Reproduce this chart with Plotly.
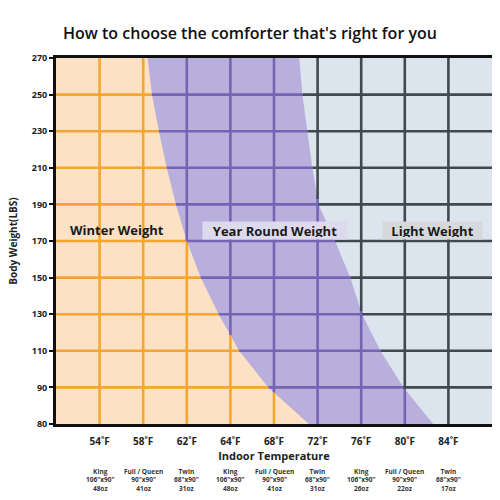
import numpy as np
import plotly.graph_objects as go

# ---------------- data ----------------
title = "How to choose the comforter that's right for you"
weights = [80, 90, 110, 130, 150, 170, 190, 210, 230, 250, 270]          # y tick labels (bottom -> top)
temps = ["54˚F", "58˚F", "62˚F", "64˚F", "68˚F", "72˚F", "76˚F", "80˚F", "84˚F"]
sizes = ["King", "Full / Queen", "Twin", "King", "Full / Queen", "Twin", "King", "Full / Queen", "Twin"]
dims = ['106"x90"', '90"x90"', '68"x90"', '106"x90"', '90"x90"', '68"x90"', '106"x90"', '90"x90"', '68"x90"']
ounces = ["48oz", "41oz", "31oz", "48oz", "41oz", "31oz", "26oz", "22oz", "17oz"]
# zone boundaries: position on the temperature grid (0 = left edge, 10 = right edge) at each weight
winter_edge = [5.8, 4.87, 4.2, 3.73, 3.32, 3.0, 2.75, 2.54, 2.36, 2.2, 2.1]
yearround_edge = [8.65, 7.97, 7.44, 7.02, 6.75, 6.4, 6.02, 5.88, 5.77, 5.65, 5.58]
zone_labels = ["Winter Weight", "Year Round Weight", "Light Weight"]

# ---------------- styling ----------------
ORANGE_FILL = "#FDE1C4"
PURPLE_FILL = "#B9AFDD"
LIGHT_FILL = "#DCE5ED"
ORANGE_LINE = "#F5A630"
PURPLE_LINE = "#7563B5"
DARK_LINE = "#3F4950"
FONT = "Open Sans"

ny = len(weights)            # 11 grid levels -> indices 0..10
yi = np.arange(ny, dtype=float)
XMAX = len(temps) + 1        # x grid 0..10
W = np.array(winter_edge)
P = np.array(yearround_edge)

fig = go.Figure()

# purple zone (left of year-round boundary)
fig.add_trace(go.Scatter(
    x=[0] + list(P) + [0], y=[0] + list(yi) + [ny - 1],
    fill="toself", fillcolor=PURPLE_FILL, line=dict(width=0),
    mode="lines", hoverinfo="skip", showlegend=False))
# orange zone (left of winter boundary)
fig.add_trace(go.Scatter(
    x=[0] + list(W) + [0], y=[0] + list(yi) + [ny - 1],
    fill="toself", fillcolor=ORANGE_FILL, line=dict(width=0),
    mode="lines", hoverinfo="skip", showlegend=False))

# grid segments coloured by zone
seg = {ORANGE_LINE: ([], []), PURPLE_LINE: ([], []), DARK_LINE: ([], [])}

def add(color, x0, y0, x1, y1):
    if abs(x1 - x0) < 1e-9 and abs(y1 - y0) < 1e-9:
        return
    xs, ys = seg[color]
    xs += [x0, x1, None]
    ys += [y0, y1, None]

# horizontal lines
for k in range(1, ny - 1):
    w, p = W[k], P[k]
    add(ORANGE_LINE, 0, k, w, k)
    add(PURPLE_LINE, w, k, p, k)
    add(DARK_LINE, p, k, XMAX, k)
# vertical lines
for j in range(1, XMAX):
    yw = float(np.interp(j, W[::-1], yi[::-1]))
    yp = float(np.interp(j, P[::-1], yi[::-1]))
    if j < W.min():
        yw = ny - 1
    if j > W.max():
        yw = 0
    if j < P.min():
        yp = ny - 1
    if j > P.max():
        yp = 0
    yp = max(yp, yw)
    add(ORANGE_LINE, j, 0, j, yw)
    add(PURPLE_LINE, j, yw, j, yp)
    add(DARK_LINE, j, yp, j, ny - 1)

for color, (xs, ys) in seg.items():
    fig.add_trace(go.Scatter(x=xs, y=ys, mode="lines",
                             line=dict(color=color, width=2.6),
                             hoverinfo="skip", showlegend=False))

# zone labels
fig.add_annotation(x=1.4, y=5.3, text=f"<b>{zone_labels[0]}</b>", showarrow=False,
                   font=dict(family=FONT, size=13, color="#1a1a1a"))
fig.add_annotation(x=5.02, y=5.3, text=f"<b>{zone_labels[1]}</b>", showarrow=False,
                   font=dict(family=FONT, size=13, color="#1a1a1a"),
                   bgcolor="#DEDAEE", width=140, height=13, borderpad=2)
fig.add_annotation(x=8.64, y=5.3, text=f"<b>{zone_labels[2]}</b>", showarrow=False,
                   font=dict(family=FONT, size=13, color="#1a1a1a"),
                   bgcolor="#D6D9DC", width=95, height=13, borderpad=2)

# size annotations under temperature ticks
for i in range(len(temps)):
    txt = f"<b>{sizes[i]}</b><br><b>{dims[i]}</b><br><b>{ounces[i]}</b>"
    fig.add_annotation(x=i + 1, y=0, yref="y", text=txt, showarrow=False,
                       yanchor="top", yshift=-42, borderpad=0,
                       font=dict(family=FONT, size=6.5, color="#333333"))

fig.update_layout(
    width=500, height=500,
    margin=dict(l=56, r=8, t=58, b=76),
    paper_bgcolor="white", plot_bgcolor=LIGHT_FILL,
    title=dict(text=title, x=0.5, xanchor="center", y=1 - 33 / 500, yanchor="middle",
               font=dict(family=FONT, size=16, color="#111111", weight=600)),
    xaxis=dict(range=[0, XMAX], tickvals=list(range(1, XMAX)), ticktext=temps,
               showgrid=False, zeroline=False, showline=True, linecolor="#111111",
               linewidth=3, mirror=True, ticks="", ticklabelstandoff=6,
               tickfont=dict(family=FONT, size=10, color="#222222", weight="bold"),
               title=dict(text="Indoor Temperature", standoff=6,
                          font=dict(family=FONT, size=11, color="#222222", weight="bold"))),
    yaxis=dict(range=[0, ny - 1], tickvals=list(range(ny)), ticktext=[str(w) for w in weights],
               showgrid=False, zeroline=False, showline=True, linecolor="#111111",
               linewidth=3, ticks="outside", ticklen=4, tickwidth=2, tickcolor="#111111",
               tickfont=dict(family=FONT, size=9, color="#222222", weight="bold"),
               title=dict(text="Body Weight(LBS)", standoff=13,
                          font=dict(family=FONT, size=10, color="#222222", weight="bold"))),
)

fig.write_html("out.html")
